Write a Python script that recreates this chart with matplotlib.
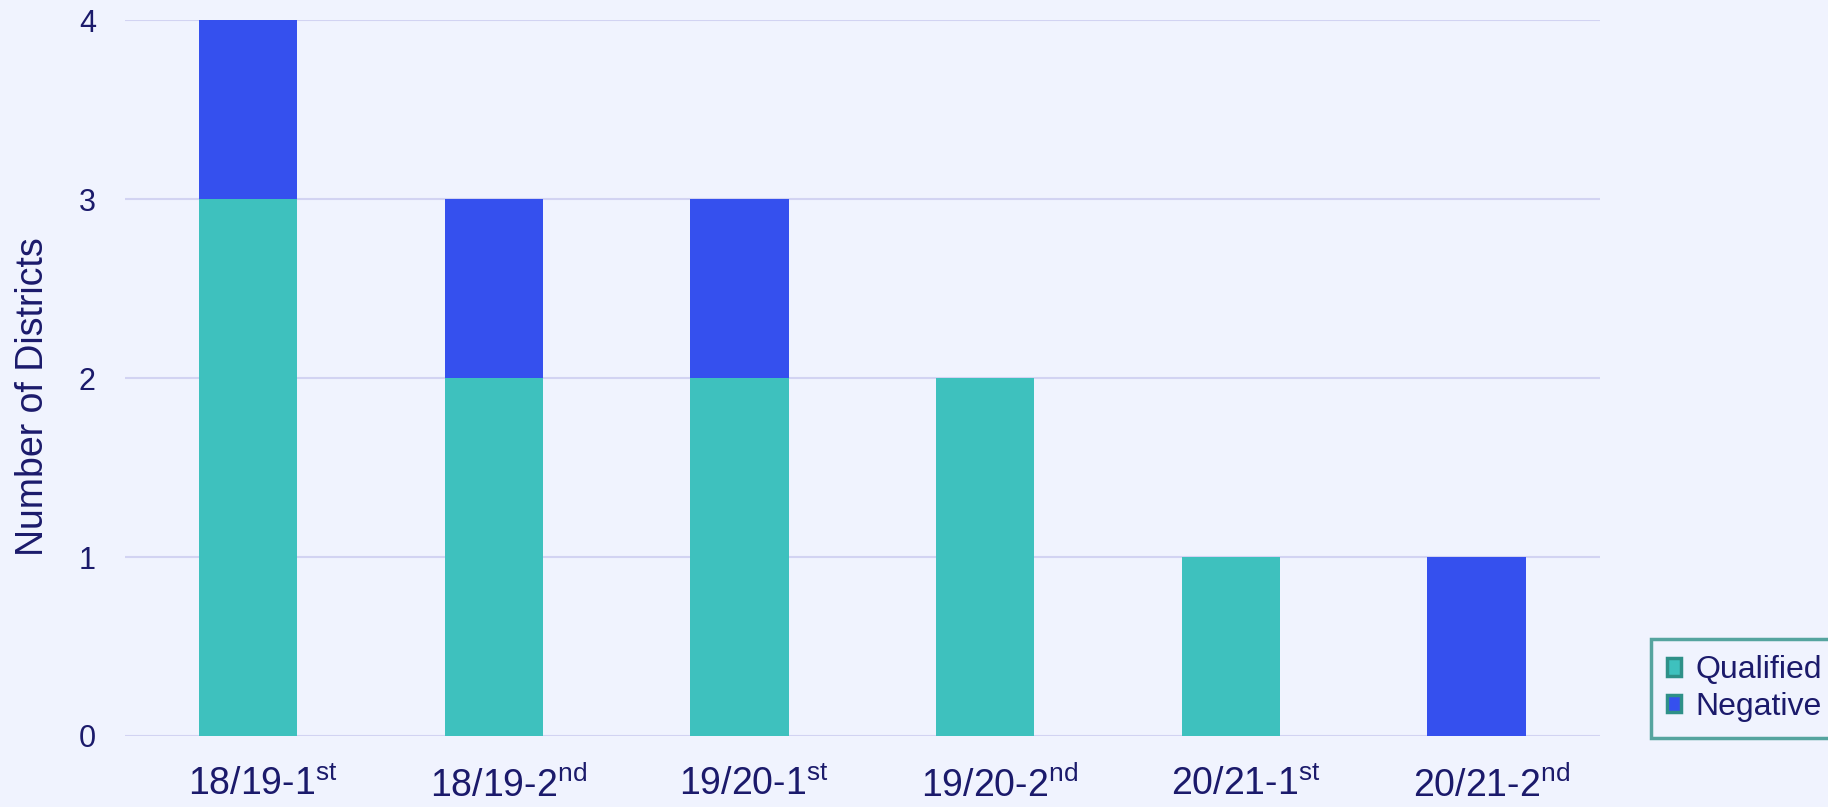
import matplotlib.pyplot as plt
from matplotlib.patches import Patch

periods = ['18/19-1$^{\\mathrm{st}}$', '18/19-2$^{\\mathrm{nd}}$', '19/20-1$^{\\mathrm{st}}$',
           '19/20-2$^{\\mathrm{nd}}$', '20/21-1$^{\\mathrm{st}}$', '20/21-2$^{\\mathrm{nd}}$']
qualified = [3, 2, 2, 2, 1, 0]
negative = [1, 1, 1, 0, 0, 1]
y_ticks = [0, 1, 2, 3, 4]

bg = '#F0F3FE'
navy = '#1B1A6B'
teal = '#3EC1BE'
blue = '#3550EE'

plt.rcParams['font.family'] = ['Liberation Sans', 'DejaVu Sans']
plt.rcParams['mathtext.fontset'] = 'custom'
plt.rcParams['mathtext.rm'] = 'Liberation Sans'

fig = plt.figure(figsize=(18.28, 8.07), dpi=100, facecolor=bg)
ax = fig.add_axes([0.0684, 0.088, 0.8066, 0.887], facecolor=bg)

x = list(range(len(periods)))
ax.bar(x, qualified, width=0.4, color=teal, zorder=3)
ax.bar(x, negative, width=0.4, bottom=qualified, color=blue, zorder=3)

ax.set_xlim(-0.5, 5.5)
ax.set_ylim(0, 4)
ax.set_yticks(y_ticks)
# labels sit slightly right of the bar centres, like the original
ax.set_xticks([i + 0.06 for i in x])
ax.set_xticklabels(periods, fontsize=27, color=navy)
ax.tick_params(axis='y', labelsize=22, labelcolor=navy, length=0, pad=21)
ax.tick_params(axis='x', length=0, pad=22)
ax.grid(axis='y', color='#D2D3F2', linewidth=1.5, zorder=0)
for s in ax.spines.values():
    s.set_visible(False)
ax.set_ylabel('Number of Districts', fontsize=27, color=navy, labelpad=20)
ax.yaxis.label.set_y(0.474)

handles = [Patch(facecolor=teal, edgecolor='#2E9088', linewidth=2.5, label='Qualified'),
           Patch(facecolor=blue, edgecolor='#2E9088', linewidth=2.5, label='Negative')]
leg = fig.legend(handles=handles, loc='lower left', bbox_to_anchor=(0.8945, 0.066),
                 fontsize=23, frameon=True, fancybox=False, handlelength=0.45,
                 handleheight=0.45, handletextpad=0.45, labelspacing=0.2,
                 borderpad=0.5, labelcolor=navy)
leg.get_frame().set_edgecolor('#2E9088')
leg.get_frame().set_linewidth(2.5)
leg.get_frame().set_facecolor(bg)

fig.savefig('out.png', dpi=100, facecolor=bg)
